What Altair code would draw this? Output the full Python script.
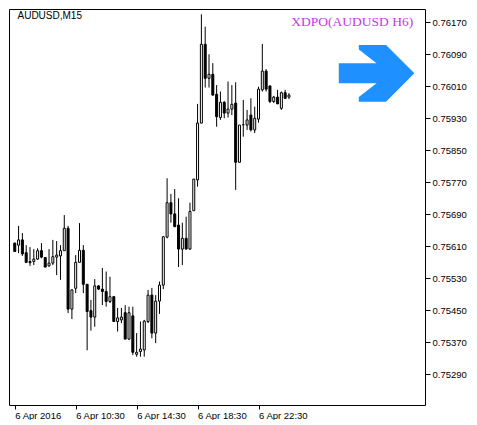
import altair as alt
import pandas as pd

# ---- data (AUDUSD M15, 15-minute bars) ----
bar_index = list(range(73))
open_ = [0.75618, 0.75613, 0.75626, 0.75594, 0.75572, 0.75572, 0.75578, 0.75599, 0.75582, 0.75561,
         0.75568, 0.75583, 0.75586, 0.75599, 0.75655, 0.75453, 0.75505, 0.75570, 0.75600, 0.75515,
         0.75449, 0.75433, 0.75511, 0.75503, 0.75497, 0.75472, 0.75484, 0.75422, 0.75426, 0.75444,
         0.75378, 0.75436, 0.75340, 0.75347, 0.75351, 0.75422, 0.75488, 0.75393, 0.75473, 0.75513,
         0.75633, 0.75719, 0.75691, 0.75663, 0.75603, 0.75630, 0.75603, 0.75699, 0.75776, 0.75918,
         0.76115, 0.76030, 0.76040, 0.75990, 0.75932, 0.75970, 0.75943, 0.75953, 0.75968, 0.75820,
         0.75914, 0.75913, 0.75938, 0.75901, 0.75928, 0.76001, 0.76048, 0.76011, 0.75972, 0.75983,
         0.75955, 0.75994, 0.75983]
high = [0.75619, 0.75661, 0.75643, 0.75613, 0.75608, 0.75603, 0.75605, 0.75618, 0.75583, 0.75603,
        0.75626, 0.75623, 0.75613, 0.75688, 0.75661, 0.75503, 0.75588, 0.75668, 0.75613, 0.75515,
        0.75476, 0.75528, 0.75513, 0.75556, 0.75547, 0.75534, 0.75486, 0.75456, 0.75456, 0.75463,
        0.75459, 0.75459, 0.75393, 0.75422, 0.75426, 0.75501, 0.75506, 0.75488, 0.75522, 0.75634,
        0.75780, 0.75741, 0.75753, 0.75730, 0.75669, 0.75684, 0.75719, 0.75778, 0.75966, 0.76190,
        0.76159, 0.76090, 0.76068, 0.76013, 0.75997, 0.75973, 0.76022, 0.76013, 0.76020, 0.75913,
        0.75976, 0.75951, 0.75980, 0.75959, 0.76009, 0.76116, 0.76053, 0.76011, 0.75986, 0.76001,
        0.75997, 0.76001, 0.75993]
low = [0.75596, 0.75593, 0.75586, 0.75568, 0.75561, 0.75563, 0.75576, 0.75580, 0.75558, 0.75559,
       0.75563, 0.75538, 0.75526, 0.75599, 0.75443, 0.75428, 0.75493, 0.75569, 0.75493, 0.75350,
       0.75399, 0.75409, 0.75501, 0.75463, 0.75459, 0.75468, 0.75422, 0.75397, 0.75418, 0.75378,
       0.75376, 0.75338, 0.75334, 0.75334, 0.75334, 0.75418, 0.75380, 0.75368, 0.75441, 0.75503,
       0.75630, 0.75669, 0.75659, 0.75558, 0.75563, 0.75603, 0.75601, 0.75699, 0.75759, 0.75918,
       0.76007, 0.76007, 0.75987, 0.75909, 0.75926, 0.75930, 0.75932, 0.75938, 0.75751, 0.75820,
       0.75884, 0.75901, 0.75897, 0.75893, 0.75919, 0.75997, 0.75997, 0.75968, 0.75968, 0.75966,
       0.75951, 0.75978, 0.75978]
close = [0.75597, 0.75626, 0.75591, 0.75570, 0.75569, 0.75578, 0.75599, 0.75583, 0.75558, 0.75568,
         0.75584, 0.75588, 0.75599, 0.75655, 0.75453, 0.75501, 0.75570, 0.75600, 0.75515, 0.75447,
         0.75433, 0.75511, 0.75503, 0.75497, 0.75472, 0.75484, 0.75422, 0.75431, 0.75433, 0.75378,
         0.75444, 0.75345, 0.75345, 0.75353, 0.75423, 0.75488, 0.75393, 0.75473, 0.75513, 0.75634,
         0.75719, 0.75691, 0.75659, 0.75603, 0.75630, 0.75603, 0.75697, 0.75778, 0.75918, 0.76115,
         0.76030, 0.76040, 0.75988, 0.75934, 0.75970, 0.75943, 0.75953, 0.75965, 0.75820, 0.75913,
         0.75914, 0.75926, 0.75901, 0.75930, 0.76003, 0.76048, 0.76003, 0.75972, 0.75983, 0.75966,
         0.75994, 0.75980, 0.75988]

price_ticks = [0.75290, 0.75370, 0.75450, 0.75530, 0.75610, 0.75690, 0.75770,
               0.75850, 0.75930, 0.76010, 0.76090, 0.76170]
time_tick_index = [0, 16, 32, 48, 64]
time_tick_labels = ["6 Apr 2016", "6 Apr 10:30", "6 Apr 14:30", "6 Apr 18:30", "6 Apr 22:30"]

symbol_label = ["AUDUSD,M15"]
symbol_pos = [(0.72, 0.76185)]
indicator_label = ["XDPO(AUDUSD H6)"]
indicator_pos = [(104.6, 0.761715)]
arrow_pos = [(95.0, 0.760425)]

X_DOMAIN = [-0.2, 106.4]
Y_DOMAIN = [0.7521325, 0.7620325]

df = pd.DataFrame({"i": bar_index, "open": open_, "high": high, "low": low, "close": close})
df["dir"] = ["up" if c >= o else "down" for o, c in zip(open_, close)]

label_expr = "".join(
    f"datum.value == {v} ? '{t}' : " for v, t in zip(time_tick_index, time_tick_labels)
) + "''"

xscale = alt.Scale(domain=X_DOMAIN, nice=False, zero=False)
yscale = alt.Scale(domain=Y_DOMAIN, nice=False, zero=False)


def x_axis():
    return alt.Axis(
        values=time_tick_index, labelExpr=label_expr, orient="bottom", domain=False,
        grid=False, tickSize=4, tickColor="black", labelAlign="left", labelBaseline="top",
        labelPadding=1, labelColor="black", labelFont="Liberation Sans", labelFontSize=9.5,
        labelOverlap=False, labelFlush=False, labelBound=False, title=None)


def y_axis():
    return alt.Axis(
        values=price_ticks, format=".5f", orient="right", domain=False, grid=False,
        tickSize=5, tickColor="black", labelPadding=2, labelColor="black",
        labelFont="Liberation Sans", labelFontSize=9.5, labelOverlap=False,
        labelFlush=False, labelBound=False, title=None)


def X(field):
    return alt.X(field, scale=xscale, axis=x_axis())


def Y(field):
    return alt.Y(field, scale=yscale, axis=y_axis())


base = alt.Chart(df)

wicks = base.mark_rule(color="black", strokeWidth=1).encode(
    x=X("i:Q"), y=Y("low:Q"), y2="high:Q")

bodies = base.mark_bar(size=2, stroke="black", strokeWidth=1).encode(
    x=X("i:Q"), y=Y("open:Q"), y2="close:Q",
    fill=alt.Fill("dir:N", scale=alt.Scale(domain=["up", "down"], range=["white", "black"]),
                  legend=None))

sym_df = pd.DataFrame({"t": symbol_label, "x": [p[0] for p in symbol_pos],
                       "y": [p[1] for p in symbol_pos]})
sym_text = alt.Chart(sym_df).mark_text(
    align="left", baseline="middle", font="Liberation Sans", fontSize=10, color="black"
).encode(x=X("x:Q"), y=Y("y:Q"), text="t:N")

ind_df = pd.DataFrame({"t": indicator_label, "x": [p[0] for p in indicator_pos],
                       "y": [p[1] for p in indicator_pos]})
ind_text = alt.Chart(ind_df).mark_text(
    align="right", baseline="middle", font="Liberation Serif", fontSize=13.5, color="#CC33EE"
).encode(x=X("x:Q"), y=Y("y:Q"), text="t:N")

arrow_path = ("M -1 -0.265 L 0 -0.265 L -0.47 -0.63 L -0.47 -0.75 L 0.25 -0.75 L 1 0 "
              "L 0.25 0.75 L -0.47 0.75 L -0.47 0.63 L 0 0.265 L -1 0.265 Z")
arr_df = pd.DataFrame({"x": [p[0] for p in arrow_pos], "y": [p[1] for p in arrow_pos]})
arrow = alt.Chart(arr_df).mark_point(
    shape=arrow_path, filled=True, color="#1E90FF", size=5715, opacity=1, strokeWidth=0
).encode(x=X("x:Q"), y=Y("y:Q"))

chart = alt.layer(wicks, bodies, sym_text, ind_text, arrow).properties(
    width=416, height=396,
    padding={"left": 1, "top": 1, "right": 0, "bottom": 0},
    background="white",
).configure_view(stroke="black", strokeWidth=1)

chart.save("out.html", embed_options={"renderer": "svg", "actions": False})
